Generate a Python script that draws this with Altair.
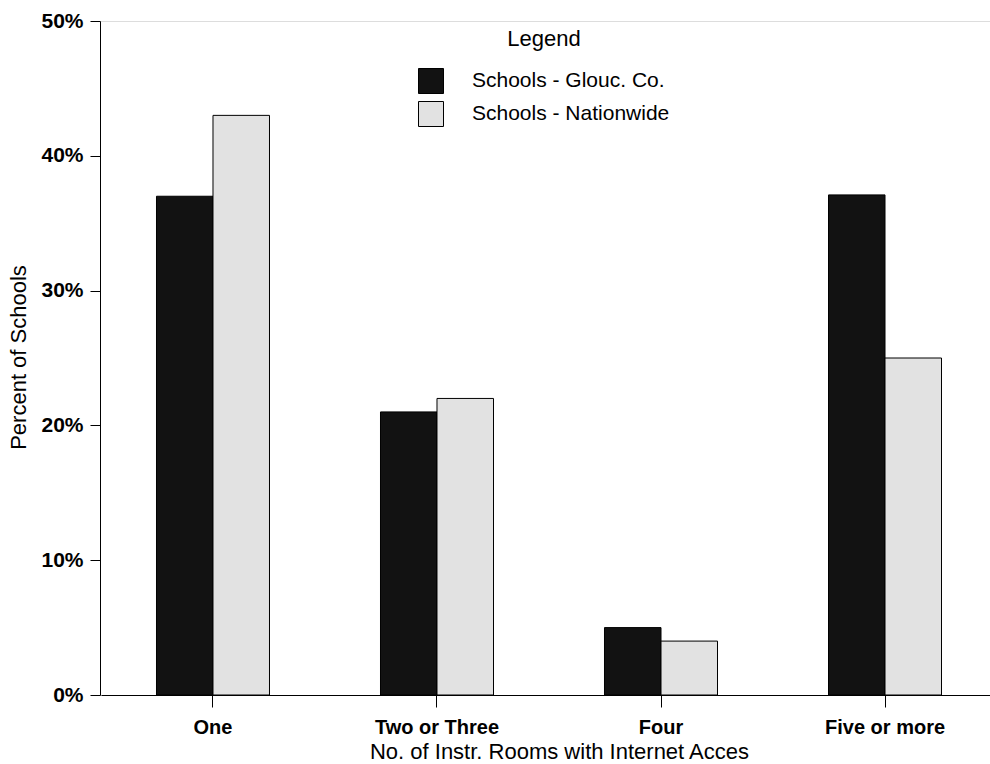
import altair as alt
import pandas as pd

categories = ["One", "Two or Three", "Four", "Five or more"]
series = ["Schools - Glouc. Co.", "Schools - Nationwide"]
glouc = [0.37, 0.21, 0.05, 0.371]
nation = [0.43, 0.22, 0.04, 0.25]
y_ticks = [0, 0.1, 0.2, 0.3, 0.4, 0.5]

rows = []
for c, g, n in zip(categories, glouc, nation):
    rows.append({"cat": c, "series": series[0], "value": g})
    rows.append({"cat": c, "series": series[1], "value": n})
df = pd.DataFrame(rows)

FONT = "Liberation Sans"

chart = alt.Chart(df).mark_bar(stroke="black", strokeWidth=1).encode(
    x=alt.X(
        "cat:N",
        sort=categories,
        scale=alt.Scale(paddingInner=0.4955, paddingOuter=0.2477, range=[1, 897]),
        axis=alt.Axis(
            title="No. of Instr. Rooms with Internet Acces",
            labelAngle=0,
            tickSize=12,
            labelPadding=10,
            labelFont=FONT, labelFontSize=20, labelFontWeight="bold", labelColor="black",
            titleFont=FONT, titleFontSize=22, titleFontWeight="normal", titleColor="black",
            titleX=459, titleY=63, titleAlign="center", titleBaseline="alphabetic",
            domainColor="black", tickColor="black",
        ),
    ),
    xOffset=alt.XOffset("series:N", sort=series, scale=alt.Scale(paddingInner=0, paddingOuter=0)),
    y=alt.Y(
        "value:Q",
        scale=alt.Scale(domain=[0, 0.5], nice=False),
        axis=alt.Axis(
            title="Percent of Schools",
            format=".0%",
            values=y_ticks,
            grid=False,
            tickSize=10,
            labelPadding=7,
            labelFont=FONT, labelFontSize=21, labelFontWeight="bold", labelColor="black",
            titleFont=FONT, titleFontSize=22, titleFontWeight="normal", titleColor="black",
            titleX=-82, titleY=336, titleAlign="center", titleBaseline="middle", titleAngle=-90,
            domainColor="black", tickColor="black",
        ),
    ),
    color=alt.Color(
        "series:N",
        sort=series,
        scale=alt.Scale(domain=series, range=["#121212", "#e2e2e2"]),
        legend=alt.Legend(
            title="Legend",
            orient="none",
            legendX=318,
            legendY=8,
            padding=0,
            symbolType="square",
            symbolSize=625,
            symbolStrokeColor="black",
            symbolStrokeWidth=1,
            symbolOpacity=1,
            labelOffset=28,
            rowPadding=3,
            titleAnchor="middle",
            titlePadding=17,
            titleFont=FONT, titleFontSize=22, titleFontWeight="normal", titleColor="black",
            labelFont=FONT, labelFontSize=21, labelFontWeight="normal", labelColor="black",
            labelLimit=400,
        ),
    ),
).properties(
    width=890,
    height=674,
    autosize=alt.AutoSizeParams(type="none"),
    padding={"left": 100, "top": 21, "right": 0, "bottom": 69},
).configure_view(stroke=None).configure(background="white")

chart.save("out.html", embed_options={"renderer": "svg", "actions": False})
